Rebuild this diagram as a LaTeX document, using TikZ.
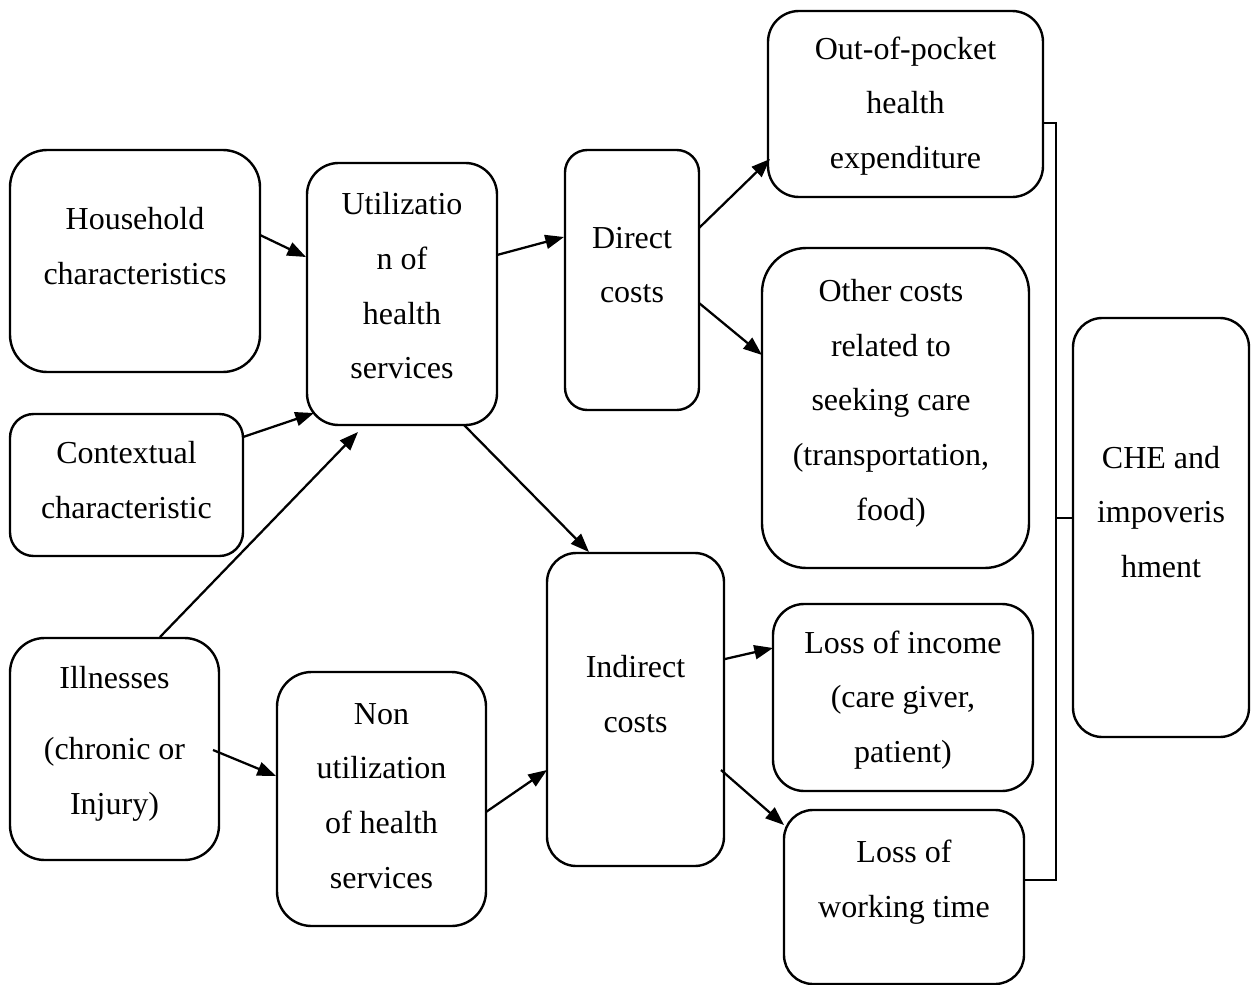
\documentclass[tikz,border=0pt]{standalone}
\usepackage{fontspec}
\setmainfont{Liberation Serif}
\usetikzlibrary{arrows.meta}
\begin{document}
\begin{tikzpicture}[x=0.75pt,y=-0.75pt,
  box/.style={draw, line width=1.8pt, inner sep=0pt},
  txt/.style={align=center, font=\fontsize{24}{41}\selectfont, inner sep=0pt},
  arr/.style={line width=1.7pt, -{Triangle[length=14pt,width=10.5pt]}},
  brk/.style={line width=0.8pt}]
\useasboundingbox (0,0) rectangle (1253,985);
% boxes
\node[box, rounded corners=28pt, minimum width=187.5pt, minimum height=166.5pt] (hh) at (135,261) {};
\node[box, rounded corners=17.75pt, minimum width=174.75pt, minimum height=106.5pt] (ctx) at (126.5,485) {};
\node[box, rounded corners=26pt, minimum width=156.75pt, minimum height=166.5pt] (ill) at (114.5,749) {};
\node[box, rounded corners=23.75pt, minimum width=142.5pt, minimum height=196.5pt] (util) at (402,294) {};
\node[box, rounded corners=26pt, minimum width=156.75pt, minimum height=190.5pt] (non) at (381.5,799) {};
\node[box, rounded corners=16.75pt, minimum width=100.5pt, minimum height=195pt] (dir) at (632,280) {};
\node[box, rounded corners=22pt, minimum width=132.75pt, minimum height=234.75pt] (ind) at (635.5,709.5) {};
\node[box, rounded corners=23.25pt, minimum width=206.25pt, minimum height=139.5pt] (oop) at (905.5,104) {};
\node[box, rounded corners=33.4pt, minimum width=200.25pt, minimum height=240pt] (oth) at (895.5,408) {};
\node[box, rounded corners=23.4pt, minimum width=195pt, minimum height=140.25pt] (inc) at (903,697.5) {};
\node[box, rounded corners=21.75pt, minimum width=180pt, minimum height=130.5pt] (wrk) at (904,897) {};
\node[box, rounded corners=22pt, minimum width=132pt, minimum height=314.25pt] (che) at (1161,527.5) {};
% texts
\node[txt] (thh) at (135,246) {Household\\characteristics};
\node[txt] (tctx) at (126.5,480) {Contextual\\characteristic};
\node[txt] (till) at (114.5,744) {Illnesses\\[12pt](chronic or\\Injury)};
\node[txt] (tutil) at (402,286) {Utilizatio\\n of\\health\\services};
\node[txt] (tnon) at (381.5,796) {Non\\utilization\\of health\\services};
\node[txt] (tdir) at (632,265) {Direct\\costs};
\node[txt] (tind) at (635.5,694) {Indirect\\costs};
\node[txt] (toop) at (905.5,106) {Out-of-pocket\\health\\expenditure};
\node[txt] (toth) at (891,403) {Other costs\\related to\\seeking care\\(transportation,\\food)};
\node[txt] (tinc) at (903,700) {Loss of income\\(care giver,\\patient)};
\node[txt] (twrk) at (904,882) {Loss of\\working time};
\node[txt] (tche) at (1161,512) {CHE and\\impoveris\\hment};
% arrow endpoints
\coordinate (a1s) at (260,235); \coordinate (a1e) at (306,257);
\coordinate (a2s) at (243,437); \coordinate (a2e) at (314,413);
\coordinate (a3s) at (160,637); \coordinate (a3e) at (358,432);
\coordinate (a4s) at (497,255); \coordinate (a4e) at (564,237);
\coordinate (a5s) at (464,425); \coordinate (a5e) at (589,552);
\coordinate (a6s) at (699,228); \coordinate (a6e) at (770,159);
\coordinate (a7s) at (699,303); \coordinate (a7e) at (762,355);
\coordinate (a8s) at (213,750); \coordinate (a8e) at (276,776);
\coordinate (a9s) at (486,812); \coordinate (a9e) at (547,770);
\coordinate (a10s) at (725,659); \coordinate (a10e) at (773,648);
\coordinate (a11s) at (721,770); \coordinate (a11e) at (784,825);
\draw[arr] (a1s) -- (a1e);
\draw[arr] (a2s) -- (a2e);
\draw[arr] (a3s) -- (a3e);
\draw[arr] (a4s) -- (a4e);
\draw[arr] (a5s) -- (a5e);
\draw[arr] (a6s) -- (a6e);
\draw[arr] (a7s) -- (a7e);
\draw[arr] (a8s) -- (a8e);
\draw[arr] (a9s) -- (a9e);
\draw[arr] (a10s) -- (a10e);
\draw[arr] (a11s) -- (a11e);
% bracket
\coordinate (b1) at (1043,123); \coordinate (b2) at (1056,123);
\coordinate (b3) at (1056,880); \coordinate (b4) at (1025,880);
\coordinate (b5) at (1056,518); \coordinate (b6) at (1073,518);
\draw[brk] (b1) -- (b2) -- (b3) -- (b4);
\draw[brk] (b5) -- (b6);
\end{tikzpicture}
\end{document}
